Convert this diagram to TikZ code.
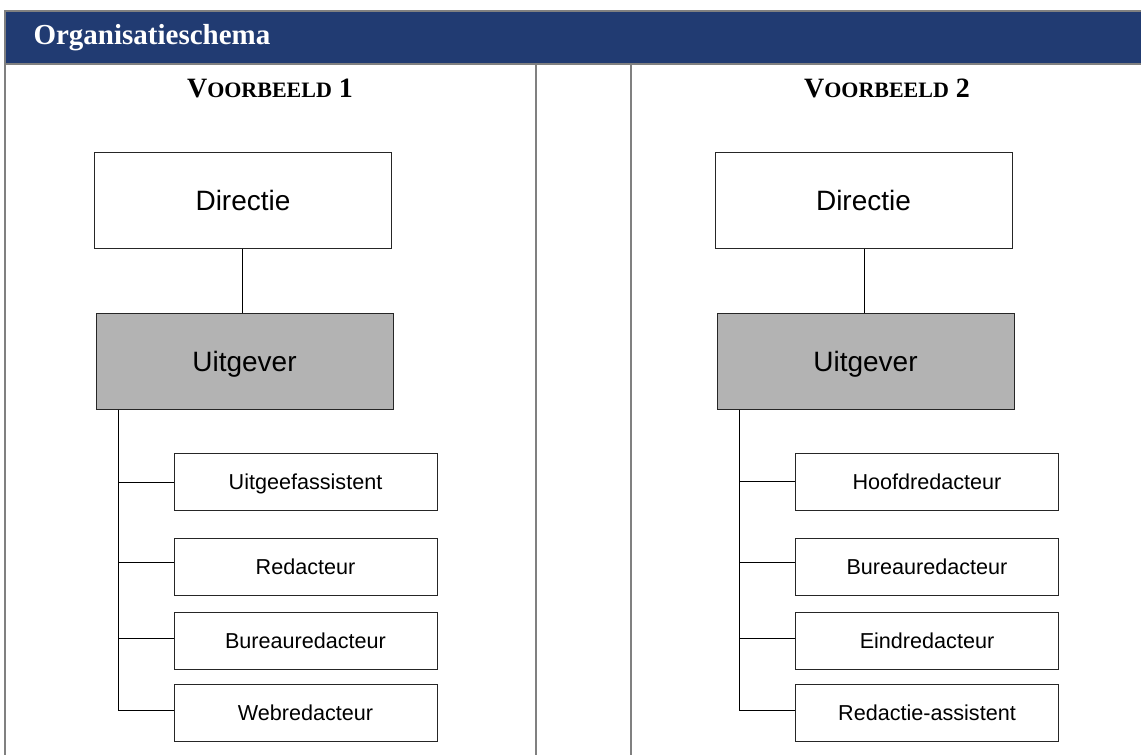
\documentclass[tikz,border=0pt]{standalone}
\usepackage{fontspec}
\setmainfont{Liberation Serif}
\newfontfamily\arialfont{Liberation Sans}
\definecolor{headblue}{RGB}{33,59,114}
\definecolor{rulegray}{RGB}{128,128,128}
\definecolor{boxgray}{RGB}{179,179,179}
\newcommand{\smallcapsword}[1]{{\fontsize{22}{24}\selectfont #1}}

\begin{document}
\begin{tikzpicture}[x=1pt,y=-1pt,
  bigbox/.style={draw=black!85, line width=1pt, minimum width=297pt,
    minimum height=96pt, inner sep=0pt, text height=20pt, text depth=0pt,
    font=\arialfont\fontsize{28}{30}\selectfont},
  leadbox/.style={bigbox, fill=boxgray},
  subbox/.style={draw=black!85, line width=1pt, minimum width=263pt,
    minimum height=57pt, inner sep=0pt, text height=15.5pt, text depth=0pt,
    font=\arialfont\fontsize{21.6}{24}\selectfont},
  link/.style={line width=1pt, black},
  frame/.style={line width=2pt, rulegray},
  example/.style={anchor=base, font=\bfseries\fontsize{28}{30}\selectfont}]

\useasboundingbox (0,0) rectangle (1141,755);

% title bar and table frame
\fill[headblue] (5,12) rectangle (1141,63);
\draw[frame] (4,11) -- (1141,11);
\draw[frame] (4,64) -- (1141,64);
\draw[frame] (5,10) -- (5,755);
\draw[frame] (535.8,65) -- (535.8,755);
\draw[frame] (630.8,65) -- (630.8,755);

\node[anchor=base west, text=white, font=\bfseries\fontsize{29}{30}\selectfont]
  (title) at (30,44) {Organisatieschema};

% example 1
\node[example] (ex1) at (270,97) {V\smallcapsword{OORBEELD} 1};
\node[bigbox]  (d1) at (243,200) {Directie};
\node[leadbox] (u1) at (244.5,361) {Uitgever};
\node[subbox]  (a1) at (305.5,481.5) {Uitgeefassistent};
\node[subbox]  (a2) at (305.5,566.5) {Redacteur};
\node[subbox]  (a3) at (305.5,640.5) {Bureauredacteur};
\node[subbox]  (a4) at (305.5,713) {Webredacteur};

% example 2
\node[example] (ex2) at (887,97) {V\smallcapsword{OORBEELD} 2};
\node[bigbox]  (d2) at (863.5,200) {Directie};
\node[leadbox] (u2) at (865.5,361) {Uitgever};
\node[subbox]  (b1) at (927,481.5) {Hoofdredacteur};
\node[subbox]  (b2) at (927,566.5) {Bureauredacteur};
\node[subbox]  (b3) at (927,640.5) {Eindredacteur};
\node[subbox]  (b4) at (927,713) {Redactie-assistent};

% connectors
\coordinate (trunkA) at (118,0);
\coordinate (trunkB) at (739,0);
\draw[link] (d1.south -| 242,0) -- (u1.north -| 242,0);
\draw[link] (d2.south -| 864,0) -- (u2.north -| 864,0);

\foreach \n/\dy in {a1/-0.5, a2/4.5, a3/2.5, a4/3, b1/0.5, b2/4.5, b3/2.5, b4/3}
  \path ([yshift=\dy pt]\n.west) coordinate (\n-in);

\draw[link] (trunkA |- u1.south) -- (trunkA |- a4-in);
\draw[link] (trunkB |- u2.south) -- (trunkB |- b4-in);
\foreach \n in {a1,a2,a3,a4}
  \draw[link] (trunkA |- \n-in) -- (\n-in);
\foreach \n in {b1,b2,b3,b4}
  \draw[link] (trunkB |- \n-in) -- (\n-in);
\end{tikzpicture}
\end{document}
